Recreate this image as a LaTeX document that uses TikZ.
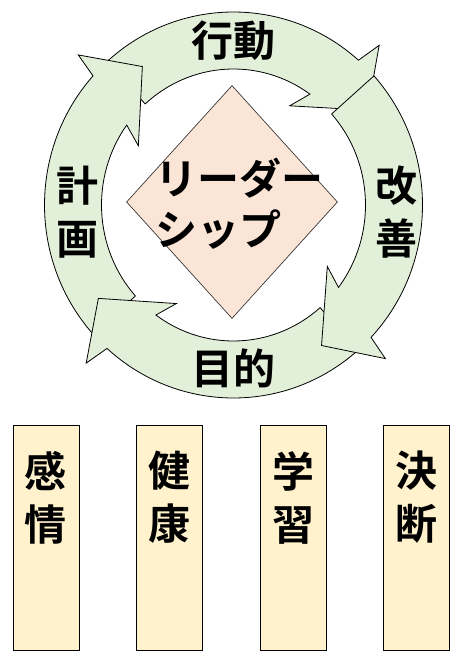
\documentclass[tikz,border=0pt]{standalone}
\usepackage{fontspec}
\newfontfamily\cjk{Noto Sans CJK JP}[BoldFont={Noto Sans CJK JP Bold}]
\usetikzlibrary{calc,shapes.geometric}
\definecolor{ringgreen}{HTML}{E2F0D9}
\definecolor{peach}{HTML}{FBE5D6}
\definecolor{cream}{HTML}{FFF2CC}
\tikzset{
  ringarrow/.style={draw=black, fill=ringgreen, line width=0.6pt, line join=miter},
  leadbox/.style={draw=black!80, fill=peach, line width=0.5pt, diamond, inner sep=0pt,
    minimum width=158.25pt, minimum height=174.75pt},
  catbox/.style={draw=black, fill=cream, line width=0.75pt, inner sep=0pt,
    minimum width=49.5pt, minimum height=168.75pt},
  jp/.style={font=\cjk\bfseries\fontsize{31.5}{39.75}\selectfont, inner sep=0pt, align=center},
  jpl/.style={font=\cjk\bfseries\fontsize{31.5}{38.25}\selectfont, inner sep=0pt, align=left},
}
\newcommand{\ringarrow}[3]{%
  \coordinate (#1-to) at ({233.5+189*cos(#2)},{456+193*sin(#2)});
  \coordinate (#1-ob) at ({233.5+214*cos(#3-1.5)},{456+218*sin(#3-1.5)});
  \coordinate (#1-tip) at ({233.5+163*cos(#3-14)},{456+167*sin(#3-14)});
  \coordinate (#1-ib) at ({233.5+111*cos(#3+11)},{456+115*sin(#3+11)});
  \coordinate (#1-in) at ({233.5+132*cos(#3+6)},{456+136*sin(#3+6)});
  \path[ringarrow] (#1-to) arc[start angle=#2, end angle=#3, x radius=189, y radius=193]
    -- (#1-ob) -- (#1-tip) -- (#1-ib) -- (#1-in)
    arc[start angle=#3+6, end angle=#2, x radius=132, y radius=136] -- cycle;
}
\begin{document}
\begin{tikzpicture}[x=0.75pt,y=0.75pt]
\useasboundingbox (0,0) rectangle (462,661);
\fill[white] (0,0) rectangle (462,661);
% ring of four arrows (clockwise)
\ringarrow{top}{132}{48.6}
\ringarrow{left}{222}{138}
\ringarrow{bottom}{311}{228}
\ringarrow{right}{42}{-43.3}
% ring labels
\node[jp] (act) at (233,620) {行動};
\node[jp] (imp) at (396,448.5) {改\\善};
\node[jp] (pur) at (233,293) {目的};
\node[jp] (plan) at (77,448.5) {計\\画};
% centre diamond
\node[leadbox] (lead) at (232,459) {};
\node[jpl, anchor=west] (leadtext) at (155,457.5) {リーダー\\シップ};
% bottom boxes
\node[catbox] (b1) at (46,122.5) {};
\node[catbox] (b2) at (169,122.5) {};
\node[catbox] (b3) at (293,122.5) {};
\node[catbox] (b4) at (416,122.5) {};
\node[jp] (t1) at (46,163.5) {感\\情};
\node[jp] (t2) at (169,163.5) {健\\康};
\node[jp] (t3) at (293,163.5) {学\\習};
\node[jp] (t4) at (416,163.5) {決\\断};
\end{tikzpicture}
\end{document}
